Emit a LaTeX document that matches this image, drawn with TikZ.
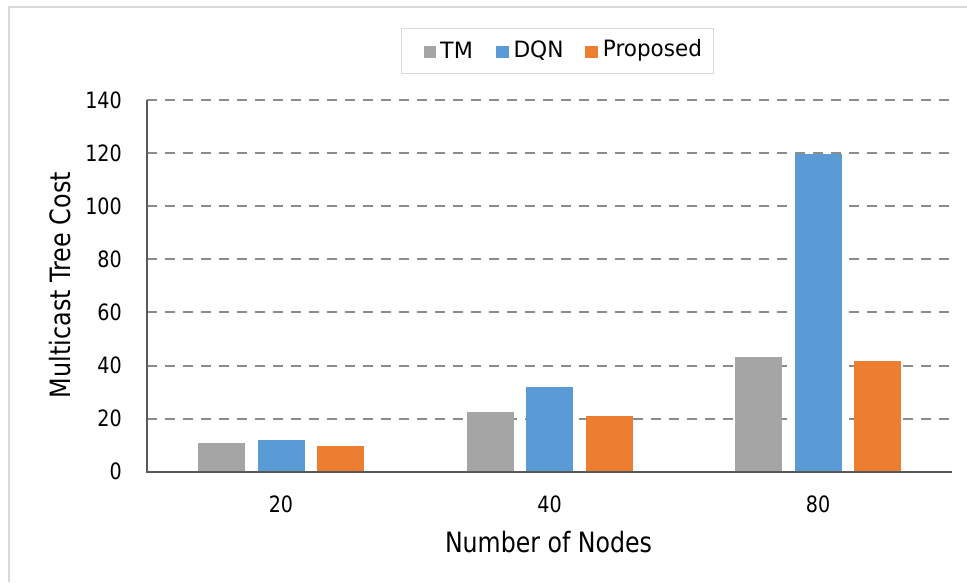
\documentclass[tikz,border=0pt]{standalone}
\usepackage{fontspec}
\setmainfont{DejaVu Sans}
\definecolor{tmgray}{HTML}{A5A5A5}
\definecolor{dqnblue}{HTML}{5B9BD5}
\definecolor{propor}{HTML}{ED7D31}
\definecolor{gridgray}{HTML}{8C8C8C}
\definecolor{axisgray}{HTML}{595959}
\definecolor{framegray}{HTML}{D9D9D9}
% narrow the wide face to the chart's lettering widths
\newcommand\narrow[1]{\scalebox{0.85}[1]{#1}}
\newcommand\fitto[2]{\resizebox{#1pt}{\height}{#2}}
\begin{document}
\begin{tikzpicture}[x=1pt,y=-1pt,
  ticklbl/.style={font=\fontsize{22.5}{24}\selectfont, inner sep=0pt},
  titlelbl/.style={font=\fontsize{28}{30}\selectfont, inner sep=0pt},
  legtxt/.style={font=\fontsize{22.5}{24}\selectfont, inner sep=0pt, anchor=west},
  gridln/.style={gridgray, line width=2pt, dash pattern=on 10pt off 8pt},
]
\useasboundingbox (0,0) rectangle (967,582);
\fill[white] (0,0) rectangle (967,582);
% chart frame (only top and left edges fall inside)
\draw[framegray, line width=2.5pt] (9,582) -- (9,7) -- (967,7);

% horizontal grid lines and y tick labels
\foreach \v in {20,40,...,140}{
  \draw[gridln] (147,{471.7-\v*2.655}) -- (952,{471.7-\v*2.655});
}
\foreach \v in {0,20,...,140}{
  \node[ticklbl, anchor=east] (yt\v) at (122,{471.7-\v*2.655}) {\narrow{\v}};
}

% bars: category centres 281, 549.5, 818
\newcommand\chartbar[3]{\fill[#1] (#2,471.7) rectangle ++(47,{-#3*2.655});}
\chartbar{tmgray}{198}{10.9}
\chartbar{dqnblue}{257.5}{11.8}
\chartbar{propor}{317}{9.7}
\chartbar{tmgray}{466.5}{22.6}
\chartbar{dqnblue}{526}{31.8}
\chartbar{propor}{585.5}{21.1}
\chartbar{tmgray}{735}{43.1}
\chartbar{dqnblue}{794.5}{119.5}
\chartbar{propor}{854}{41.6}

% axes
\draw[axisgray, line width=1.8pt] (147,100) -- (147,471.7);
\draw[axisgray, line width=2pt] (146,471.7) -- (952,471.7);

% x tick labels
\node[ticklbl] (x20) at (281,504) {\narrow{20}};
\node[ticklbl] (x40) at (549.5,504) {\narrow{40}};
\node[ticklbl] (x80) at (818,504) {\narrow{80}};

% axis titles
\node[titlelbl, anchor=base] (xtitle) at (548.5,552) {\fitto{207}{Number of Nodes}};
\node[titlelbl, anchor=base, rotate=90] (ytitle) at (70,285) {\fitto{226}{Multicast Tree Cost}};

% legend
\draw[framegray, line width=1pt, fill=white] (401,28.3) rectangle (713.3,73.3);
\fill[tmgray] (423.5,45.5) rectangle ++(12.5,12.5);
\node[legtxt] (lgtm) at (440,50.5) {\fitto{32.7}{TM}};
\fill[dqnblue] (496,45.5) rectangle ++(12.5,12.5);
\node[legtxt] (lgdqn) at (513.3,50.5) {\fitto{50}{DQN}};
\fill[propor] (585,45.5) rectangle ++(12.5,12.5);
\node[legtxt] (lgprop) at (602.7,50.5) {\fitto{99}{Proposed}};
\end{tikzpicture}
\end{document}
